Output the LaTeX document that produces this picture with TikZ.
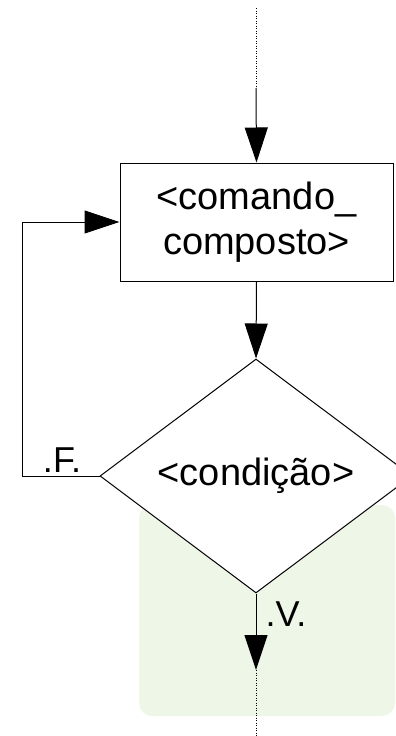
\documentclass[tikz,border=0pt]{standalone}
\usepackage{fontspec}
\setmainfont{Liberation Sans}
\usetikzlibrary{shapes.geometric,arrows.meta}
\definecolor{panelgreen}{RGB}{238,246,231}
\tikzset{
  flowline/.style={line width=1pt, draw=black},
  dotline/.style={line width=1pt, draw=black, dash pattern=on 1pt off 1.5pt},
  arrowed/.style={flowline, -{Triangle[length=35pt,width=23pt]}},
  txt/.style={font=\fontsize{38}{45}\selectfont},
  lbl/.style={font=\fontsize{36}{40}\selectfont, inner sep=0pt},
}
\begin{document}
\begin{tikzpicture}[x=1pt,y=-1pt]
\useasboundingbox (0,0) rectangle (396,736);
\fill[panelgreen, rounded corners=13pt] (139,505) rectangle (395,716);

\node[draw, flowline, rectangle, minimum width=273pt, minimum height=118pt, inner sep=0pt, align=center, txt] (box) at (256.5,222) {<comando\_\\composto>};
\node[draw, flowline, diamond, fill=white, minimum width=312pt, minimum height=234pt, inner sep=0pt, txt] (cond) at (256,476) {<condição>};

\coordinate (topend) at (256,8);
\coordinate (topmid) at (256,88);
\coordinate (loopbl) at (22,476);
\coordinate (looptl) at (22,222);
\coordinate (botmid) at (256,670);
\coordinate (botend) at (256,736);

\draw[dotline] (topend) -- (topmid);
\draw[arrowed] (topmid) -- (box.north);
\draw[arrowed] (box.south) -- (cond.north);
\draw[arrowed] (cond.west) -- (loopbl) -- (looptl) -- (box.west);
\draw[arrowed] (cond.south) -- (botmid);
\draw[dotline] (botmid) -- (botend);

\node[lbl, anchor=base] (flabel) at (62,472) {.F.};
\node[lbl, anchor=base] (vlabel) at (286,626) {.V.};
\end{tikzpicture}
\end{document}
